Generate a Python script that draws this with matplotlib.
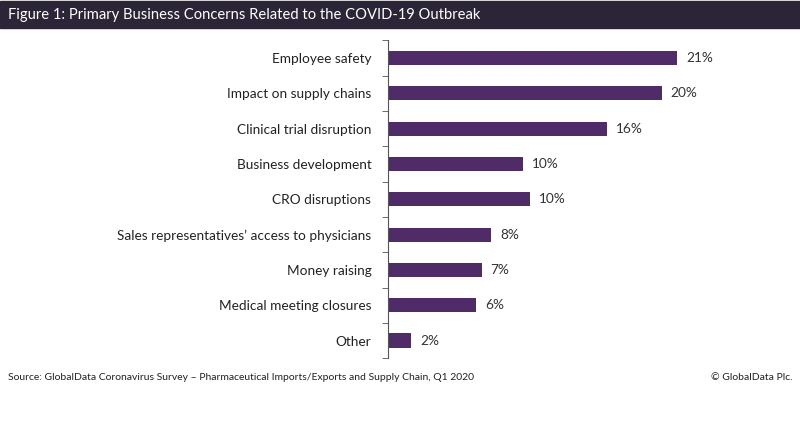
import numpy as np
import matplotlib.pyplot as plt

plt.rcParams['font.family'] = ['Lato', 'DejaVu Sans']

# survey results, top to bottom as shown
concerns = ["Employee safety", "Impact on supply chains", "Clinical trial disruption",
            "Business development", "CRO disruptions",
            "Sales representatives\u2019 access to physicians", "Money raising",
            "Medical meeting closures", "Other"]
shares = [21.0, 19.9, 15.9, 9.8, 10.3, 7.5, 6.8, 6.4, 1.7]
share_labels = ["21%", "20%", "16%", "10%", "10%", "8%", "7%", "6%", "2%"]

title = "Figure 1: Primary Business Concerns Related to the COVID-19 Outbreak"
source = "Source: GlobalData Coronavirus Survey \u2013 Pharmaceutical Imports/Exports and Supply Chain, Q1 2020"

bar_color = "#4f2b68"
header_color = "#2b2537"

fig = plt.figure(figsize=(8, 4.3), dpi=100)
ax = fig.add_axes([0.485, 0.167, 0.43, 0.739])

y = np.arange(len(concerns))
ax.barh(y, shares, height=0.4, color=bar_color)
for yi, v, lab in zip(y, shares, share_labels):
    ax.text(v + 0.65, yi, lab, va="center", ha="left", fontsize=9.8, color="#333333")

ax.set_ylim(len(concerns) - 0.5, -0.5)
ax.set_xlim(0, 25)
ax.set_yticks(y)
ax.set_yticklabels(concerns, fontsize=9.8, color="#222222")
ax.set_yticks(np.arange(-0.5, len(concerns), 1), minor=True)
ax.tick_params(axis="y", which="major", length=0, pad=12)
ax.tick_params(axis="y", which="minor", length=4, color="#555555")
ax.set_xticks([])
for s in ["top", "right", "bottom"]:
    ax.spines[s].set_visible(False)
ax.spines["left"].set_color("#555555")

# header band
fig.patches.append(plt.Rectangle((0, 1 - 28 / 430), 1, 27 / 430, transform=fig.transFigure,
                                 color=header_color, zorder=0))
fig.text(8 / 800, 1 - 15 / 430, title, color="white", fontsize=10.6, va="center", ha="left")

fig.text(8 / 800, 1 - 377 / 430, source, fontsize=7.5, color="#222222", va="center", ha="left")
fig.text(793 / 800, 1 - 377 / 430, "\u00a9 GlobalData Plc.", fontsize=7.5, color="#222222",
         va="center", ha="right")

fig.savefig("out.png", dpi=100)
